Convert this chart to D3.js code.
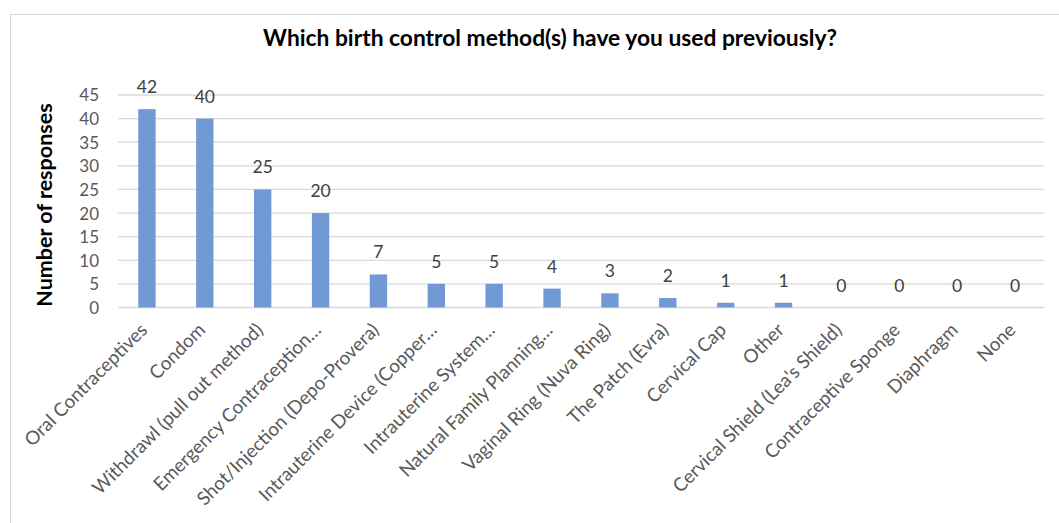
<!DOCTYPE html>
<html><head><meta charset="utf-8">
<script src="https://cdn.jsdelivr.net/npm/d3@7/dist/d3.min.js"></script>
<style>
html,body{margin:0;padding:0;background:#fff;}
svg{display:block;font-family:Lato,"Open Sans",sans-serif;}
</style></head>
<body>
<svg id="c" width="1059" height="523"></svg>
<script>
const categories = ["Oral Contraceptives","Condom","Withdrawl (pull out method)","Emergency Contraception…","Shot/Injection (Depo-Provera)","Intrauterine Device (Copper…","Intrauterine System…","Natural Family Planning…","Vaginal Ring (Nuva Ring)","The Patch (Evra)","Cervical Cap","Other","Cervical Shield (Lea's Shield)","Contraceptive Sponge","Diaphragm","None"];
const values = [42,40,25,20,7,5,5,4,3,2,1,1,0,0,0,0];
const yTicks = [0,5,10,15,20,25,30,35,40,45];
const title = "Which birth control method(s) have you used previously?";
const yTitle = "Number of responses";

const svg = d3.select("#c");
const mLeft = 118, mRight = 1044, mTop = 95, mBottom = 307.5;
const FONT = "Lato, 'Open Sans', sans-serif";

svg.append("rect").attr("x",10.5).attr("y",14.5).attr("width",1100).attr("height",600)
  .attr("fill","#fff").attr("stroke","#d9d9d9").attr("stroke-width",1);

const x = d3.scaleBand().domain(categories).range([mLeft,mRight]).paddingInner(0.7).paddingOuter(0.35);
const y = d3.scaleLinear().domain([0,45]).range([mBottom,mTop]);

// gridlines
svg.append("g").selectAll("line").data(yTicks).join("line")
  .attr("x1",mLeft).attr("x2",mRight).attr("y1",d=>y(d)).attr("y2",d=>y(d))
  .attr("stroke","#d9d9d9").attr("stroke-width",1.3);

// y axis labels
const yAxis = d3.axisLeft(y).tickValues(yTicks).tickSize(0).tickPadding(0);
const ga = svg.append("g").attr("transform",`translate(99,0)`).call(yAxis);
ga.select(".domain").remove();
ga.selectAll("text").attr("font-size",17).attr("fill","#595959").attr("font-family",FONT).attr("dy","0.35em");

// bars
svg.append("g").selectAll("rect").data(values).join("rect")
  .attr("x",(d,i)=>x(categories[i])).attr("width",x.bandwidth())
  .attr("y",d=>y(d)).attr("height",d=>y(0)-y(d)).attr("fill","#7199d3");

// value labels
svg.append("g").selectAll("text").data(values).join("text")
  .attr("x",(d,i)=>x(categories[i])+x.bandwidth()/2).attr("y",d=>y(d)-16)
  .attr("text-anchor","middle").attr("font-size",17.5).attr("fill","#404040").text(d=>d);

// category labels
const xAxis = d3.axisBottom(x).tickSize(0).tickPadding(0);
const gx = svg.append("g").attr("transform",`translate(0,${mBottom})`).call(xAxis);
gx.select(".domain").remove();
gx.selectAll("text").attr("font-size",18.8).attr("fill","#595959").attr("font-family",FONT)
  .attr("text-anchor","end").attr("dy","0.35em")
  .attr("transform","translate(-3,19) rotate(-45)");

// title
svg.append("text").attr("x",550).attr("y",46).attr("text-anchor","middle")
  .attr("font-size",22.8).attr("font-weight","bold").attr("fill","#000").text(title);

// y title
svg.append("text").attr("transform","translate(52,205) rotate(-90)").attr("text-anchor","middle")
  .attr("font-size",21.5).attr("font-weight","bold").attr("fill","#000").text(yTitle);
</script>
</body></html>
